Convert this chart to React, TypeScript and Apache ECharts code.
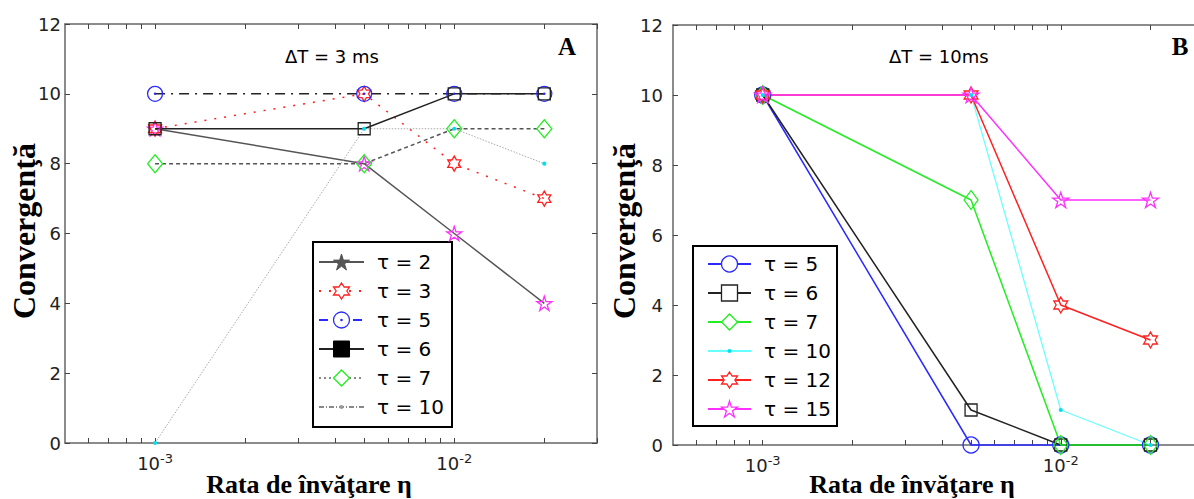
import React, { useEffect, useRef } from "react";
import * as echarts from "echarts";

// Learning rate η (x positions of the measured points)
const etaValues = [0.001, 0.005, 0.01, 0.02];
const xExtent = [0.0005, 0.03];
const xTickValues = [
  0.0006, 0.0007, 0.0008, 0.0009, 0.001, 0.002, 0.003, 0.004, 0.005, 0.006,
  0.007, 0.008, 0.009, 0.01, 0.02, 0.03,
];
const xLabelValues = [0.001, 0.01];
const yMin = 0;
const yMax = 12;
const yStep = 2;

// Panel A (ΔT = 3 ms)
const aTau2 = [9, 8, 6, 4];
const aTau3 = [9, 10, 8, 7];
const aTau5 = [10, 10, 10, 10];
const aTau6 = [9, 9, 10, 10];
const aTau7 = [8, 8, 9, 9];
const aTau10 = [0, 9, 9, 8];

// Panel B (ΔT = 10 ms)
const bTau5 = [10, 0, 0, 0];
const bTau6 = [10, 1, 0, 0];
const bTau7 = [10, 7, 0, 0];
const bTau10 = [10, 10, 1, 0];
const bTau12 = [10, 10, 4, 3];
const bTau15 = [10, 10, 7, 7];

const namesA = ["τ = 2", "τ = 3", "τ = 5", "τ = 6", "τ = 7", "τ = 10"];
const namesB = ["τ = 5", "τ = 6", "τ = 7", "τ = 10", "τ = 12", "τ = 15"];

const lg = (v: number) => Math.log10(v);

function starPath(n: number, inner: number) {
  let d = "";
  for (let i = 0; i < 2 * n; i++) {
    const a = -Math.PI / 2 + (i * Math.PI) / n;
    const r = i % 2 === 0 ? 10 : 10 * inner;
    d += (i === 0 ? "M" : "L") + (r * Math.cos(a)).toFixed(3) + " " + (r * Math.sin(a)).toFixed(3) + " ";
  }
  return "path://" + d + "Z";
}

const HEX = starPath(6, 0.5774);
const STAR = starPath(5, 0.382);
const CIRCLE_DOT =
  "path://M10 0A10 10 0 1 1 -10 0A10 10 0 1 1 10 0ZM0.8 0A0.8 0.8 0 1 1 -0.8 0A0.8 0.8 0 1 1 0.8 0Z";
const DOT = "path://M-10 -10M10 10M2.6 0A2.6 2.6 0 1 1 -2.6 0A2.6 2.6 0 1 1 2.6 0Z";

const SANS = "DejaVu Sans";
const SERIF = "Liberation Serif";
const NONE = "rgba(0,0,0,0)";

type LineOpt = {
  symbol: string;
  size: number | number[];
  line: string;
  type?: any;
  lw?: number;
  fill?: string;
  stroke?: string;
  bw?: number;
};

function mkLine(name: string, idx: number, vals: number[], o: LineOpt) {
  return {
    type: "line",
    name,
    xAxisIndex: idx,
    yAxisIndex: idx,
    data: etaValues.map((e, i) => [lg(e), vals[i]]),
    symbol: o.symbol,
    symbolSize: o.size,
    symbolKeepAspect: true,
    showAllSymbol: true,
    clip: false,
    silent: true,
    emphasis: { disabled: true },
    lineStyle: { color: o.line, width: o.lw ?? 1.5, type: o.type ?? "solid" },
    itemStyle: { color: o.fill ?? NONE, borderColor: o.stroke ?? NONE, borderWidth: o.bw ?? 1.3 },
  };
}

const AX = "#666";

function xAxes(gridIndex: number) {
  const common = {
    type: "value",
    gridIndex,
    min: lg(xExtent[0]),
    max: lg(xExtent[1]),
    splitLine: { show: false },
    axisLine: { show: true, onZero: false, lineStyle: { color: AX, width: 1.5 } },
    axisTick: {
      show: true,
      inside: true,
      length: 5,
      customValues: xTickValues.map(lg),
      lineStyle: { color: "#444", width: 1 },
    },
  };
  return [
    {
      ...common,
      position: "bottom",
      axisLabel: {
        show: true,
        customValues: xLabelValues.map(lg),
        margin: 9,
        formatter: (v: number) => "{b|10}{s|" + Math.round(v) + "}",
        rich: {
          b: { fontFamily: SANS, fontSize: 18, color: "#222", lineHeight: 22 },
          s: { fontFamily: SANS, fontSize: 13, color: "#222", lineHeight: 13, verticalAlign: "top" },
        },
      },
    },
    { ...common, position: "top", axisLabel: { show: false } },
  ];
}

function yAxes(gridIndex: number, margin: number) {
  const common = {
    type: "value",
    gridIndex,
    min: yMin,
    max: yMax,
    interval: yStep,
    splitLine: { show: false },
    axisLine: { show: true, onZero: false, lineStyle: { color: AX, width: 1.5 } },
    axisTick: { show: true, inside: true, length: 5, lineStyle: { color: "#444", width: 1 } },
  };
  return [
    {
      ...common,
      position: "left",
      axisLabel: { show: true, margin, fontFamily: SANS, fontSize: 18, color: "#222" },
    },
    { ...common, position: "right", axisLabel: { show: false } },
  ];
}

const RED = "#ff2020";
const MAG = "#ff30ff";
const BLUE = "#2a2aff";
const GREEN = "#22ee22";
const CYAN_LINE = "#66ffff";
const CYAN = "#00e0f0";

const strip = (n: string) => n.split("|")[1];

export default function App() {
  const ref = useRef<HTMLDivElement>(null);

  useEffect(() => {
    if (!ref.current) return;
    const chart = echarts.init(ref.current, undefined, { renderer: "svg" });

    const series = [
      // Panel A
      mkLine("A|" + namesA[0], 0, aTau2, { symbol: STAR, size: 15, line: "#555", stroke: MAG }),
      mkLine("A|" + namesA[1], 0, aTau3, { symbol: HEX, size: 15, line: RED, type: [2, 8], stroke: RED }),
      mkLine("A|" + namesA[2], 0, aTau5, { symbol: CIRCLE_DOT, size: 15, line: "#222", type: [10, 6, 2, 6], stroke: BLUE }),
      mkLine("A|" + namesA[3], 0, aTau6, { symbol: "rect", size: 12, line: "#222", stroke: "#222" }),
      mkLine("A|" + namesA[4], 0, aTau7, { symbol: "diamond", size: [15, 18], line: "#555", type: [4, 3], stroke: GREEN }),
      mkLine("A|" + namesA[5], 0, aTau10, { symbol: DOT, size: 16, line: "#aaa", lw: 1, type: [1.5, 1.5], fill: CYAN, bw: 0 }),
      // Panel B
      mkLine("B|" + namesB[0], 2, bTau5, { symbol: "circle", size: 16, line: BLUE, stroke: BLUE }),
      mkLine("B|" + namesB[1], 2, bTau6, { symbol: "rect", size: 12, line: "#222", stroke: "#222" }),
      mkLine("B|" + namesB[2], 2, bTau7, { symbol: "diamond", size: [14, 19], line: GREEN, stroke: GREEN }),
      mkLine("B|" + namesB[3], 2, bTau10, { symbol: DOT, size: 16, line: CYAN_LINE, lw: 1.2, fill: CYAN, bw: 0 }),
      mkLine("B|" + namesB[4], 2, bTau12, { symbol: HEX, size: 16, line: RED, stroke: RED }),
      mkLine("B|" + namesB[5], 2, bTau15, { symbol: STAR, size: 16, line: MAG, stroke: MAG }),
    ];

    const legendCommon = {
      orient: "vertical",
      padding: 0,
      itemHeight: 20,
      itemGap: 9,
      selectedMode: false,
      formatter: strip,
      textStyle: { fontFamily: SANS, fontSize: 20, color: "#000", lineHeight: 20, padding: [0, 0, 0, 8] },
    };

    const option: any = {
      animation: false,
      textStyle: { fontFamily: SANS },
      grid: [
        { left: 65, top: 24, width: 532, height: 419, containLabel: false, outerBoundsMode: "none" },
        { left: 673, top: 25, width: 530, height: 420, containLabel: false, outerBoundsMode: "none" },
      ],
      xAxis: [...xAxes(0), ...xAxes(1)],
      yAxis: [...yAxes(0, 4), ...yAxes(1, 10)],
      legend: [
        {
          ...legendCommon,
          left: 318,
          top: 252,
          itemWidth: 45,
          data: [
            { name: "A|" + namesA[0], itemStyle: { color: "#555", borderColor: "#555", borderWidth: 1 } },
            { name: "A|" + namesA[1], itemStyle: { color: "#fff", borderWidth: 1.3 } },
            { name: "A|" + namesA[2], itemStyle: { color: "#fff", borderWidth: 1.3 }, lineStyle: { color: BLUE, type: [9, 8] } },
            { name: "A|" + namesA[3], itemStyle: { color: "#000", borderColor: "#000", borderWidth: 1 } },
            { name: "A|" + namesA[4], itemStyle: { color: "#fff", borderWidth: 1.3 }, lineStyle: { color: "#888", type: [2, 3] } },
            { name: "A|" + namesA[5], itemStyle: { color: "#999" }, lineStyle: { color: "#888", type: [5, 2, 1, 2] } },
          ],
        },
        {
          ...legendCommon,
          left: 707,
          top: 254,
          itemWidth: 43,
          data: [
            { name: "B|" + namesB[0], itemStyle: { color: "#fff", borderWidth: 1.3 } },
            { name: "B|" + namesB[1], itemStyle: { color: "#fff", borderWidth: 1.3 } },
            { name: "B|" + namesB[2], itemStyle: { color: "#fff", borderWidth: 1.3 } },
            { name: "B|" + namesB[3] },
            { name: "B|" + namesB[4], itemStyle: { color: "#fff", borderWidth: 1.3 } },
            { name: "B|" + namesB[5], itemStyle: { color: "#fff", borderWidth: 1.3 } },
          ],
        },
      ],
      graphic: [
        {
          type: "text", x: 23.5, y: 231, rotation: Math.PI / 2,
          style: { text: "Convergenţă", font: `bold 32px "${SERIF}"`, fill: "#000", align: "center", verticalAlign: "middle" },
        },
        {
          type: "text", x: 623.5, y: 231, rotation: Math.PI / 2,
          style: { text: "Convergenţă", font: `bold 32px "${SERIF}"`, fill: "#000", align: "center", verticalAlign: "middle" },
        },
        {
          type: "text", x: 309, y: 484,
          style: { text: "Rata de învăţare η", font: `bold 26px "${SERIF}"`, fill: "#000", align: "center", verticalAlign: "middle" },
        },
        {
          type: "text", x: 912, y: 484,
          style: { text: "Rata de învăţare η", font: `bold 26px "${SERIF}"`, fill: "#000", align: "center", verticalAlign: "middle" },
        },
        {
          type: "text", x: 285, y: 56,
          style: { text: "ΔT = 3 ms", font: `18px "${SANS}"`, fill: "#000", align: "left", verticalAlign: "middle" },
        },
        {
          type: "text", x: 889, y: 56,
          style: { text: "ΔT = 10ms", font: `18px "${SANS}"`, fill: "#000", align: "left", verticalAlign: "middle" },
        },
        {
          type: "text", x: 567, y: 46,
          style: { text: "A", font: `bold 25px "${SERIF}"`, fill: "#000", align: "center", verticalAlign: "middle" },
        },
        {
          type: "text", x: 1180, y: 46,
          style: { text: "B", font: `bold 25px "${SERIF}"`, fill: "#000", align: "center", verticalAlign: "middle" },
        },
        {
          type: "rect", shape: { x: 313, y: 242, width: 139, height: 185 },
          style: { fill: "none", stroke: "#000", lineWidth: 2 },
        },
        {
          type: "rect", shape: { x: 693, y: 246, width: 144, height: 180 },
          style: { fill: "none", stroke: "#000", lineWidth: 2 },
        },
      ],
      series,
    };

    chart.setOption(option);
    return () => chart.dispose();
  }, []);

  return (
    <div
      ref={ref}
      style={{ position: "fixed", left: 0, top: 0, width: 1194, height: 499, background: "#fff" }}
    />
  );
}
